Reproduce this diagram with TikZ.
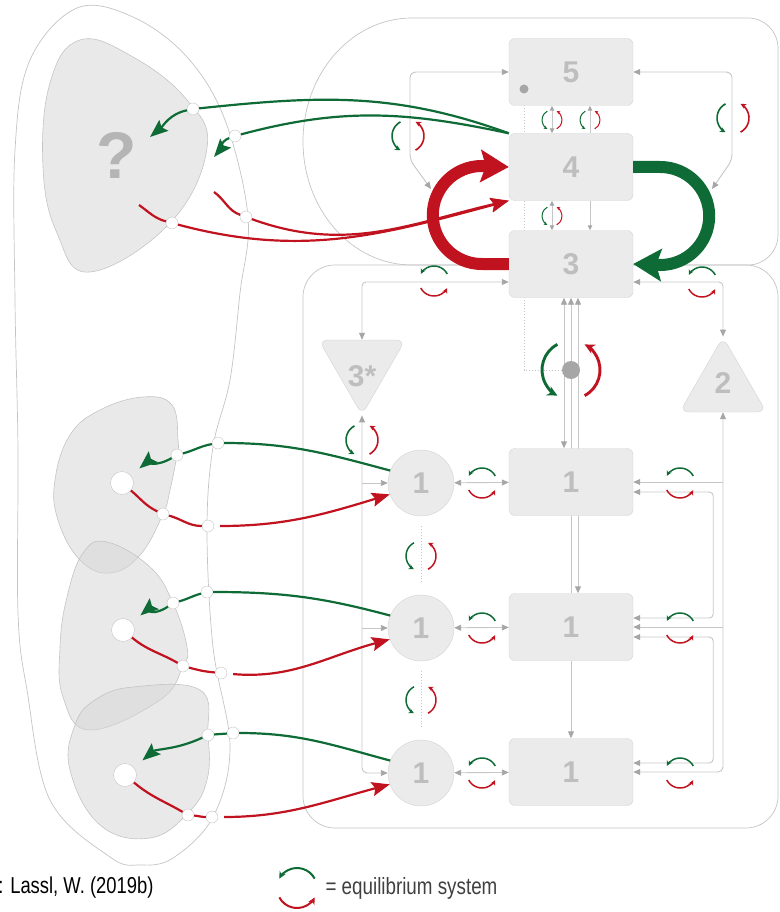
\documentclass[tikz,border=0pt]{standalone}
\usepackage{fontspec}
\setmainfont{Liberation Sans}
\newfontfamily\narrowfont{Liberation Sans}[FakeStretch=0.8]
\usetikzlibrary{arrows.meta,shapes.geometric,backgrounds}

\definecolor{eqgreen}{HTML}{0E6B35}
\definecolor{eqred}{HTML}{C1131F}
\definecolor{boxfill}{HTML}{EBEBEB}
\definecolor{boxline}{HTML}{D3D3D3}
\definecolor{digit}{HTML}{BEBEBE}
\definecolor{linkgray}{HTML}{C6C6C6}
\definecolor{tipgray}{HTML}{A6A6A6}
\definecolor{hullgray}{HTML}{C4C4C4}
\definecolor{blobgray}{HTML}{D4D4D4}

% green/red arrow pair of an equilibrium system
\newcommand{\eqsys}[4]{%
  \begin{scope}[shift={(#1,#2)},rotate=#4,line width=0.1*#3pt]
    \draw[eqgreen,-{Stealth[length=0pt 3.5,width=0pt 3.4]}] (28:#3) arc[start angle=28,end angle=152,radius=#3];
    \draw[eqred,-{Stealth[length=0pt 3.5,width=0pt 3.4]}] (208:#3) arc[start angle=208,end angle=332,radius=#3];
  \end{scope}}

\begin{document}
\begin{tikzpicture}
  [x=1pt,y=1pt,
   >={Triangle[length=7pt,width=6pt,color=tipgray]},
   every node/.style={font=\bfseries,text=digit},
   stock/.style={rectangle,rounded corners=6pt,fill=boxfill,draw=boxline,minimum width=124pt,minimum height=67pt,font=\fontsize{30}{30}\selectfont\bfseries},
   inflow/.style={circle,fill=boxfill,draw=boxline,minimum size=66pt,inner sep=0pt,font=\fontsize{30}{30}\selectfont\bfseries},
   tri/.style={regular polygon,regular polygon sides=3,minimum size=100pt,inner sep=0pt,rounded corners=9pt,fill=boxfill,draw=boxline,font=\fontsize{30}{30}\selectfont\bfseries},
   pin/.style={circle,fill=white,draw=hullgray,minimum size=12pt,inner sep=0pt},
   hole/.style={circle,fill=white,draw=hullgray,minimum size=23pt,inner sep=0pt},
   link/.style={draw=linkgray,line width=0.9pt},
   small/.style={>={Triangle[length=5pt,width=4.5pt,color=tipgray]}},
   hull/.style={draw=hullgray,line width=0.7pt},
   patch/.style={fill=blobgray,fill opacity=0.5,draw=hullgray,line width=0.6pt},
   gflow/.style={draw=eqgreen,line width=2.2pt,-{Stealth[length=18pt,width=14pt,inset=3pt]}},
   rflow/.style={draw=eqred,line width=2.2pt,-{Stealth[length=18pt,width=14pt,inset=3pt]}}]
  \useasboundingbox (0,0) rectangle (779,-912);

  % stocks
  \node[stock] (b5) at (571,-72) {5};
  \node[stock] (b4) at (571,-167) {4};
  \node[stock] (b3) at (571,-264) {3};
  \node[stock] (b1a) at (571,-482) {1};
  \node[stock] (b1b) at (571,-627) {1};
  \node[stock] (b1c) at (571,-772) {1};
  \node[inflow] (c1a) at (421,-483) {1};
  \node[inflow] (c1b) at (421,-628) {1};
  \node[inflow] (c1c) at (421,-773) {1};
  \node[tri,shape border rotate=180] (t3) at (362,-365) {\raisebox{-21pt}[0pt][0pt]{3*}};
  \node[tri] (t2) at (723,-387) {\raisebox{-6pt}[0pt][0pt]{2}};
  \node[circle,fill=tipgray,minimum size=9pt,inner sep=0pt] (d5) at (524,-89) {};
  \node[circle,fill=tipgray,minimum size=18pt,inner sep=0pt] (gd) at (571,-370) {};

  \begin{scope}[on background layer]
    % hulls
    \draw[hull] plot[smooth cycle,tension=0.6] coordinates {(77,-8) (133,-17) (187,-57) (225,-120) (248,-217) (240,-293) (230,-380) (213,-447) (207,-530) (213,-647) (230,-747) (213,-817) (173,-858) (140,-865) (110,-857) (50,-800) (27,-690) (18,-613) (18,-450) (15,-300) (15,-150) (30,-60)};
    \draw[hull] (412,-18) arc[start angle=90,end angle=270,x radius=109,y radius=123.5] -- (748,-265)
      arc[start angle=-90,end angle=0,radius=30] -- (778,-48) arc[start angle=0,end angle=90,radius=30] -- cycle;
    \draw[hull,rounded corners=32pt] (303,-265) rectangle (778,-828);

    % patches
    \draw[patch] plot[smooth cycle,tension=0.7] coordinates {(80,-40) (133,-57) (187,-100) (207,-148) (170,-223) (90,-272) (57,-233) (43,-167) (50,-83)};
    \draw[patch] plot[smooth cycle,tension=0.7] coordinates {(143,-397) (172,-405) (178,-440) (177,-455) (170,-490) (163,-514) (140,-555) (110,-573) (80,-560) (58,-520) (55,-480) (70,-435) (100,-410)};
    \draw[patch] plot[smooth cycle,tension=0.7] coordinates {(107,-542) (150,-567) (173,-603) (187,-647) (183,-666) (160,-700) (90,-730) (63,-697) (60,-647) (67,-597) (83,-553)};
    \draw[patch] plot[smooth cycle,tension=0.7] coordinates {(133,-687) (200,-690) (208,-735) (207,-780) (188,-813) (150,-838) (100,-825) (70,-770) (75,-725) (95,-700)};

    % links around 5
    \coordinate (l4) at (431,-189);
    \coordinate (r4) at (712,-189);
    \draw[link,<->,rounded corners=6pt] (b5.west) -| (410,-160) -- (l4);
    \draw[link,<->,rounded corners=6pt] (b5.east) -| (732,-160) -- (r4);
    \draw[link,small,<->] ([xshift=-19pt]b5.south) -- ([xshift=-19pt]b4.north);
    \draw[link,small,->] ([xshift=19pt]b4.north) -- ([xshift=19pt]b5.south);
    \draw[link,small,<->] ([xshift=-19pt]b4.south) -- ([xshift=-19pt]b3.north);
    \draw[link,small,->] ([xshift=19pt]b4.south) -- ([xshift=19pt]b3.north);
    \draw[link,dotted,line width=0.7pt] (d5) |- (gd);

    % links below 3
    \draw[link,<->] ([xshift=-7pt]b3.south) -- ([xshift=-7pt]b1a.north);
    \draw[link,->] (b1b.north) -- (b3.south);
    \draw[link,<->] ([xshift=7pt]b3.south) -- ([xshift=7pt]b1b.north);
    \draw[link,->] (b1b.south) -- (b1c.north);
    \draw[link,<->,rounded corners=4pt] ([yshift=-18pt]b3.west) -| (t3.north);
    \draw[link,<->,rounded corners=4pt] ([yshift=-18pt]b3.east) -| (t2.north);

    \draw[link,<->,rounded corners=5pt] (t3.south) |- (c1c.west);
    \draw[link,->] (t3.south |- c1a.west) -- (c1a.west);
    \draw[link,->] (t3.south |- c1b.west) -- (c1b.west);
    \draw[link,<->,rounded corners=5pt] (t2.south) |- (b1c.east);
    \draw[link,->] (t2.south |- b1a.east) -- (b1a.east);
    \draw[link,->] (t2.south |- b1b.east) -- (b1b.east);
    \draw[link,<->,rounded corners=4pt] ([yshift=-10pt]b1a.east) -- ++(80,0) |- ([yshift=9pt]b1b.east);
    \draw[link,<->,rounded corners=4pt] ([yshift=-10pt]b1b.east) -- ++(80,0) |- ([yshift=9pt]b1c.east);

    \draw[link,<->] (c1a) -- (b1a);
    \draw[link,<->] (c1b) -- (b1b);
    \draw[link,<->] (c1c) -- (b1c);
    \draw[link,dotted,shorten <=10pt,shorten >=12pt] (c1a) -- (c1b);
    \draw[link,dotted,shorten <=10pt,shorten >=12pt] (c1b) -- (c1c);
  \end{scope}

  % big loop between 3 and 4
  \draw[eqred,line width=12pt,-{Stealth[length=28pt,width=32pt,inset=5pt]}] (b3.west) -- ++(-27,0) arc[start angle=270,end angle=90,radius=49] -- (b4.west);
  \draw[eqgreen,line width=12pt,-{Stealth[length=28pt,width=32pt,inset=5pt]}] (b4.east) -- ++(27,0) arc[start angle=90,end angle=-90,radius=49] -- (b3.east);

  % question patch
  \node[text=digit!95!black,font=\fontsize{66}{66}\selectfont\bfseries] (qm) at (117,-155) {?};
  \node[pin] (q1) at (193,-109) {};
  \node[pin] (q2) at (235,-136) {};
  \node[pin] (q3) at (172,-223) {};
  \node[pin] (q4) at (246,-217) {};
  \coordinate (qa) at (150,-137);
  \coordinate (qb) at (214,-157);
  \coordinate (qc) at (139,-205);
  \coordinate (qd) at (214,-192);
  \draw[gflow] (b4.north west) to[out=160,in=6] (q1) to[out=192,in=40] (qa);
  \draw[gflow] (b4.north west) to[out=168,in=15] (q2) to[out=200,in=50] (qb);
  \draw[rflow] (qc) to[out=-35,in=165] (q3) to[out=-15,in=195] (b4.south west);
  \draw[rflow] (qd) to[out=-35,in=160] (q4) to[out=-20,in=193] (b4.south west);

  % patches of the 1s
  \node[hole] (wa) at (122,-483) {};
  \node[hole] (wb) at (123,-630) {};
  \node[hole] (wc) at (125,-775) {};
  \node[pin] (ga1) at (177,-455) {};
  \node[pin] (ga2) at (218,-443) {};
  \node[pin] (ra1) at (163,-514) {};
  \node[pin] (ra2) at (208,-526) {};
  \node[pin] (gb1) at (173,-603) {};
  \node[pin] (gb2) at (207,-592) {};
  \node[pin] (rb1) at (183,-666) {};
  \node[pin] (rb2) at (221,-673) {};
  \node[pin] (gc1) at (208,-735) {};
  \node[pin] (gc2) at (233,-733) {};
  \node[pin] (rc1) at (188,-815) {};
  \node[pin] (rc2) at (212,-817) {};

  \draw[gflow,shorten >=11pt] (c1a.158) to[out=165,in=0] (ga2) to[out=190,in=15] (ga1) to[out=210,in=40] (wa);
  \draw[rflow,shorten <=6pt] (wa) to[out=-40,in=155] (ra1) to[out=-15,in=180] (ra2) to[out=0,in=197] (c1a.200);
  \draw[gflow,shorten >=11pt] (c1b.158) to[out=165,in=0] (gb2) to[out=195,in=15] (gb1) to[out=215,in=40] (wb);
  \draw[rflow,shorten <=6pt] (wb) to[out=-40,in=150] (rb1) to[out=-15,in=175] (rb2) to[out=-5,in=195] (c1b.200);
  \draw[gflow,shorten >=11pt] (c1c.158) to[out=165,in=0] (gc2) to[out=185,in=5] (gc1) to[out=205,in=40] (wc);
  \draw[rflow,shorten <=6pt] (wc) to[out=-40,in=150] (rc1) to[out=-5,in=180] (rc2) to[out=0,in=195] (c1c.200);

  % equilibrium systems
  \eqsys{408}{-136}{16}{90}
  \eqsys{733}{-118}{16}{90}
  \eqsys{552}{-120}{10}{90}
  \eqsys{590}{-120}{10}{90}
  \eqsys{552}{-216}{10}{90}
  \eqsys{571}{-370}{29}{90}
  \eqsys{434}{-281}{15}{0}
  \eqsys{702}{-282}{15}{0}
  \eqsys{362}{-440}{16}{90}
  \eqsys{421}{-556}{15}{90}
  \eqsys{421}{-700}{15}{90}
  \eqsys{482}{-483}{15}{0}
  \eqsys{482}{-628}{15}{0}
  \eqsys{482}{-773}{15}{0}
  \eqsys{680}{-483}{15}{0}
  \eqsys{680}{-628}{15}{0}
  \eqsys{680}{-773}{15}{0}

  % source and key
  \node[anchor=east,text=black,font=\narrowfont\fontsize{23}{23}\selectfont] (src) at (157,-888) {: Lassl, W. (2019b)};
  \eqsys{297}{-888}{20}{0}
  \node[anchor=west,text=black!75,font=\narrowfont\fontsize{23.5}{23.5}\selectfont] (key) at (322,-888) {= equilibrium system};
\end{tikzpicture}
\end{document}
